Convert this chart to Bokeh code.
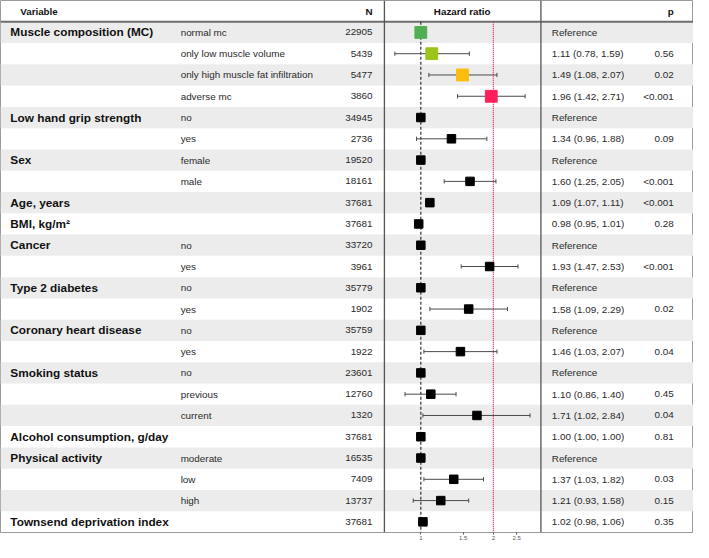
import math
from bokeh.plotting import figure
from bokeh.models import Range1d, LogScale, LinearAxis, FixedTicker, ColumnDataSource
from bokeh.embed import file_html
from bokeh.resources import INLINE
from bokeh.core.properties import value

# ---------------- data ----------------
variables = ["Muscle composition (MC)", "", "", "", "Low hand grip strength", "", "Sex", "",
             "Age, years", "BMI, kg/m\u00b2", "Cancer", "", "Type 2 diabetes", "",
             "Coronary heart disease", "", "Smoking status", "", "",
             "Alcohol consumption, g/day", "Physical activity", "", "", "Townsend deprivation index"]
levels = ["normal mc", "only low muscle volume", "only high muscle fat infiltration", "adverse mc",
          "no", "yes", "female", "male", "", "", "no", "yes", "no", "yes", "no", "yes",
          "no", "previous", "current", "", "moderate", "low", "high", ""]
n_obs = [22905, 5439, 5477, 3860, 34945, 2736, 19520, 18161, 37681, 37681, 33720, 3961,
         35779, 1902, 35759, 1922, 23601, 12760, 1320, 37681, 16535, 7409, 13737, 37681]
hr = [1.00, 1.11, 1.49, 1.96, 1.00, 1.34, 1.00, 1.60, 1.09, 0.98, 1.00, 1.93,
      1.00, 1.58, 1.00, 1.46, 1.00, 1.10, 1.71, 1.00, 1.00, 1.37, 1.21, 1.02]
ci_low = [None, 0.78, 1.08, 1.42, None, 0.96, None, 1.25, 1.07, 0.95, None, 1.47,
          None, 1.09, None, 1.03, None, 0.86, 1.02, 1.00, None, 1.03, 0.93, 0.98]
ci_high = [None, 1.59, 2.07, 2.71, None, 1.88, None, 2.05, 1.11, 1.01, None, 2.53,
           None, 2.29, None, 2.07, None, 1.40, 2.84, 1.00, None, 1.82, 1.58, 1.06]
p_values = ["", "0.56", "0.02", "<0.001", "", "0.09", "", "<0.001", "<0.001", "0.28", "",
            "<0.001", "", "0.02", "", "0.04", "", "0.45", "0.04", "0.81", "", "0.03", "0.15", "0.35"]
mc_colors = ["#52AE52", "#9DC41A", "#FBBD0B", "#FF1F5B"]
hr_ticks = [1, 1.5, 2, 2.5]
null_hr = 1
marker_hr = 2

# ---------------- layout (reference pixel units for x, row units for y) ----------------
X0, X1 = 2, 706
X_VAR, X_LVL, X_N, X_SEP1, X_SEP2, X_CI, X_P = 12, 185, 380, 392, 551, 562, 686
X_HR_ONE, PX_PER_LN = 429.0, 106.3
nrows = len(hr)
FONT = value("Liberation Sans")

hr_start = math.exp((X0 - X_HR_ONE) / PX_PER_LN)
hr_end = math.exp((X1 - X_HR_ONE) / PX_PER_LN)

p = figure(width=693, height=542, output_backend="svg", toolbar_location=None,
           x_range=Range1d(X0, X1), y_range=Range1d(nrows, -1),
           x_axis_location=None, y_axis_location=None,
           min_border_left=0, min_border_right=0, min_border_top=0, min_border_bottom=10)
p.extra_x_ranges = {"hr": Range1d(hr_start, hr_end)}
p.extra_x_scales = {"hr": LogScale()}
for g in p.grid:
    g.visible = False
p.outline_line_color = "#9C9C9C"
p.outline_line_width = 1
p.background_fill_color = "white"
p.border_fill_color = "white"

rows = list(range(nrows))
yc = [i + 0.5 for i in rows]

# stripes
stripe_rows = [i for i in rows if i % 2 == 0]
p.quad(left=X0, right=X1, top=stripe_rows, bottom=[i + 1 for i in stripe_rows],
       fill_color="#ECECEC", line_color=None)

# header rule
p.segment(x0=[X0], x1=[X1], y0=[0], y1=[0], line_color="#6E6E6E", line_width=2)
# column separators
p.segment(x0=[X_SEP1, X_SEP2], x1=[X_SEP1, X_SEP2], y0=[-1, -1], y1=[nrows, nrows],
          line_color="#555555", line_width=1.3)

# reference lines
p.segment(x0=[null_hr], x1=[null_hr], y0=[0], y1=[nrows], x_range_name="hr",
          line_color="#333333", line_width=1.2, line_dash="3 2")
p.segment(x0=[marker_hr], x1=[marker_hr], y0=[0], y1=[nrows], x_range_name="hr",
          line_color="#F0145E", line_width=1.2, line_dash="1 1")

# confidence intervals
ci_rows = [i for i in rows if ci_low[i] is not None]
ci_src = ColumnDataSource(dict(
    lo=[ci_low[i] for i in ci_rows], hi=[ci_high[i] for i in ci_rows],
    y=[i + 0.5 for i in ci_rows], yt=[i + 0.4 for i in ci_rows], yb=[i + 0.6 for i in ci_rows]))
p.segment(x0="lo", x1="hi", y0="y", y1="y", source=ci_src, x_range_name="hr",
          line_color="#4A4A4A", line_width=1)
p.segment(x0="lo", x1="lo", y0="yt", y1="yb", source=ci_src, x_range_name="hr",
          line_color="#4A4A4A", line_width=1)
p.segment(x0="hi", x1="hi", y0="yt", y1="yb", source=ci_src, x_range_name="hr",
          line_color="#4A4A4A", line_width=1)

# point estimates
colors = [mc_colors[i] if i < len(mc_colors) else "#000000" for i in rows]
sizes = [11.8 if i < len(mc_colors) else 8.5 for i in rows]
pt_src = ColumnDataSource(dict(x=hr, y=yc, c=colors, s=sizes))
p.scatter(x="x", y="y", size="s", marker="square", fill_color="c", line_color="c",
          source=pt_src, x_range_name="hr")

# texts
def ci_label(i):
    if ci_low[i] is None:
        return "Reference"
    return f"{hr[i]:.2f} ({ci_low[i]:.2f}, {ci_high[i]:.2f})"

txt = ColumnDataSource(dict(y=yc, var=variables, lvl=levels, n=[str(v) for v in n_obs],
                            ci=[ci_label(i) for i in rows], pv=p_values))
p.text(x=X_VAR, y="y", text="var", source=txt, text_font=FONT, text_font_size="11.8px",
       text_font_style="bold", text_color="#111111", text_baseline="middle", text_align="left")
p.text(x=X_LVL, y="y", text="lvl", source=txt, text_font=FONT, text_font_size="9.9px",
       text_color="#2A2A2A", text_baseline="middle", text_align="left")
p.text(x=X_N, y="y", text="n", source=txt, text_font=FONT, text_font_size="9.9px",
       text_color="#2A2A2A", text_baseline="middle", text_align="right")
p.text(x=X_CI, y="y", text="ci", source=txt, text_font=FONT, text_font_size="9.9px",
       text_color="#2A2A2A", text_baseline="middle", text_align="left")
p.text(x=X_P, y="y", text="pv", source=txt, text_font=FONT, text_font_size="9.9px",
       text_color="#2A2A2A", text_baseline="middle", text_align="right")

# header
hdr = ColumnDataSource(dict(x=[22, X_N, 471, X_P], y=[-0.5] * 4,
                            t=["Variable", "N", "Hazard ratio", "p"],
                            a=["left", "right", "center", "right"]))
p.text(x="x", y="y", text="t", text_align="a", source=hdr, text_font=FONT,
       text_font_size="9.8px", text_font_style="bold", text_color="#111111",
       text_baseline="middle")

# HR axis
ax = LinearAxis(x_range_name="hr", ticker=FixedTicker(ticks=hr_ticks))
ax.axis_line_color = None
ax.major_tick_in = 0
ax.major_tick_out = 2
ax.major_tick_line_color = "#555555"
ax.minor_tick_line_color = None
ax.major_label_text_font = "Liberation Sans"
ax.major_label_text_font_size = "6px"
ax.major_label_text_color = "#555555"
ax.major_label_standoff = 1
p.add_layout(ax, "below")

open("out.html", "w").write(file_html(p, INLINE))
